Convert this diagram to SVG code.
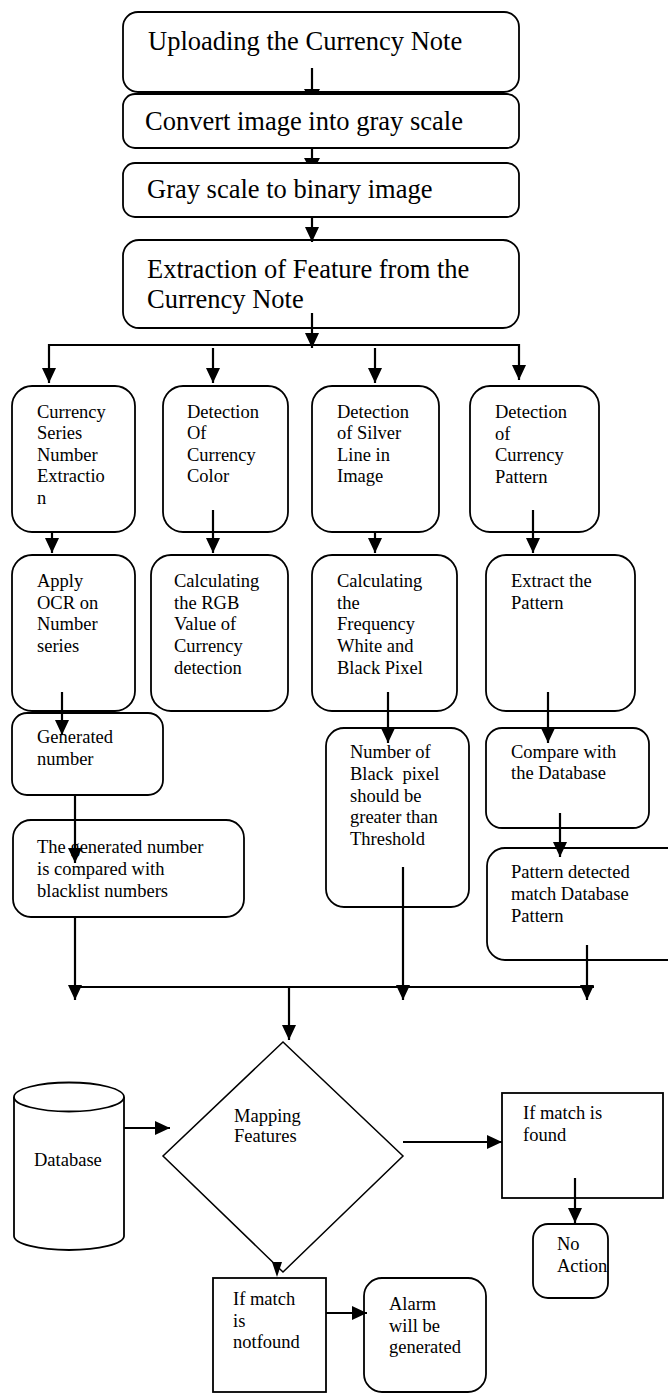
<svg xmlns="http://www.w3.org/2000/svg" width="668" height="1394" viewBox="0 0 668 1394">
<style>
.box{fill:#fff;stroke:#000;stroke-width:1.8}
.big{font-family:"Liberation Serif","Times New Roman",serif;font-size:26.5px;fill:#000}
.t{font-family:"Liberation Serif","Times New Roman",serif;font-size:18.5px;fill:#000}
.c{stroke:#000;stroke-width:2.2;fill:none}
.ca{stroke:#000;stroke-width:2.2;fill:none;marker-end:url(#ah)}
.hd{fill:#000;stroke:none}
</style>
<defs>
<marker id="ah" viewBox="0 0 15 14" refX="15" refY="7" markerWidth="15" markerHeight="14" markerUnits="userSpaceOnUse" orient="auto">
<path d="M0,0 L15,7 L0,14 z" fill="#000"/>
</marker>
</defs>
<g id="n1"><rect class="box" x="123" y="12" width="396" height="80" rx="15"/><text class="big" x="148" y="50">Uploading the Currency Note</text></g>
<g id="n2"><rect class="box" x="123" y="94" width="396" height="54" rx="12"/><text class="big" x="145" y="130">Convert image into gray scale</text></g>
<g id="n3"><rect class="box" x="123" y="163" width="396" height="54" rx="12"/><text class="big" x="147" y="198">Gray scale to binary image</text></g>
<g id="n4"><rect class="box" x="123" y="240" width="396" height="88" rx="16"/><text class="big" x="147" y="278">Extraction of Feature from the</text><text class="big" x="147" y="308">Currency Note</text></g>
<g id="c1"><rect class="box" x="12" y="386" width="123" height="146" rx="20"/><text class="t" x="37" y="418">Currency</text><text class="t" x="37" y="439">Series</text><text class="t" x="37" y="461">Number</text><text class="t" x="37" y="482">Extractio</text><text class="t" x="37" y="504">n</text></g>
<g id="c2"><rect class="box" x="163" y="386" width="125" height="146" rx="20"/><text class="t" x="187" y="418">Detection</text><text class="t" x="187" y="439">Of</text><text class="t" x="187" y="461">Currency</text><text class="t" x="187" y="482">Color</text></g>
<g id="c3"><rect class="box" x="312" y="386" width="127" height="146" rx="20"/><text class="t" x="337" y="418">Detection</text><text class="t" x="337" y="439">of Silver</text><text class="t" x="337" y="461">Line in</text><text class="t" x="337" y="482">Image</text></g>
<g id="c4"><rect class="box" x="470" y="386" width="129" height="146" rx="20"/><text class="t" x="495" y="418">Detection</text><text class="t" x="495" y="440">of</text><text class="t" x="495" y="461">Currency</text><text class="t" x="495" y="483">Pattern</text></g>
<g id="a1"><rect class="box" x="12" y="555" width="123" height="156" rx="20"/><text class="t" x="37" y="587">Apply</text><text class="t" x="37" y="609">OCR on</text><text class="t" x="37" y="630">Number</text><text class="t" x="37" y="652">series</text></g>
<g id="a2"><rect class="box" x="151" y="555" width="137" height="156" rx="20"/><text class="t" x="174" y="587">Calculating</text><text class="t" x="174" y="609">the RGB</text><text class="t" x="174" y="630">Value of</text><text class="t" x="174" y="652">Currency</text><text class="t" x="174" y="674">detection</text></g>
<g id="a3"><rect class="box" x="312" y="555" width="145" height="156" rx="20"/><text class="t" x="337" y="587">Calculating</text><text class="t" x="337" y="609">the</text><text class="t" x="337" y="630">Frequency</text><text class="t" x="337" y="652">White and</text><text class="t" x="337" y="674">Black Pixel</text></g>
<g id="a4"><rect class="box" x="486" y="555" width="149" height="156" rx="20"/><text class="t" x="511" y="587">Extract the</text><text class="t" x="511" y="609">Pattern</text></g>
<g id="g1"><rect class="box" x="12" y="713" width="151" height="82" rx="15"/><text class="t" x="37" y="743">Generated</text><text class="t" x="37" y="765">number</text></g>
<g id="t1"><rect class="box" x="13" y="820" width="231" height="97" rx="18"/><text class="t" x="37" y="853">The generated number</text><text class="t" x="37" y="875">is compared with</text><text class="t" x="37" y="897">blacklist numbers</text></g>
<g id="b3"><rect class="box" x="326" y="728" width="143" height="179" rx="18"/><text class="t" x="350" y="758">Number of</text><text class="t" x="350" y="780" xml:space="preserve">Black  pixel</text><text class="t" x="350" y="802">should be</text><text class="t" x="350" y="823">greater than</text><text class="t" x="350" y="845">Threshold</text></g>
<g id="b4"><rect class="box" x="486" y="728" width="163" height="100" rx="16"/><text class="t" x="511" y="758">Compare with</text><text class="t" x="511" y="779">the Database</text></g>
<g id="p4"><rect class="box" x="487" y="848" width="200" height="112" rx="18"/><text class="t" x="511" y="878">Pattern detected</text><text class="t" x="511" y="900">match Database</text><text class="t" x="511" y="922">Pattern</text></g>
<g id="db"><path class="box" d="M14,1097 L14,1236 A55,14 0 0 0 124,1236 L124,1097"/><ellipse class="box" cx="69" cy="1097" rx="55" ry="14.5"/><text class="t" x="34" y="1166">Database</text></g>
<g id="map"><polygon class="box" points="283,1042 403,1156 283,1272 163,1156" style="stroke-width:1.5"/><text class="t" x="234" y="1122">Mapping</text><text class="t" x="234" y="1142">Features</text></g>
<g id="found"><rect class="box" x="502" y="1093" width="161" height="105"/><text class="t" x="523" y="1119">If match is</text><text class="t" x="523" y="1141">found</text></g>
<g id="noaction"><rect class="box" x="533" y="1224" width="75" height="74" rx="15"/><text class="t" x="557" y="1250">No</text><text class="t" x="557" y="1272">Action</text></g>
<g id="notfound"><rect class="box" x="213" y="1278" width="113" height="114"/><text class="t" x="233" y="1305">If match</text><text class="t" x="233" y="1327">is</text><text class="t" x="233" y="1348">notfound</text></g>
<g id="alarm"><rect class="box" x="364" y="1278" width="122" height="114" rx="18"/><text class="t" x="389" y="1310">Alarm</text><text class="t" x="389" y="1332">will be</text><text class="t" x="389" y="1353">generated</text></g>
<g id="connectors">
<line class="c" x1="312" y1="68" x2="312" y2="90"/>
<polygon class="hd" points="304,89 320,89 317.3,94 306.7,94"/>
<line class="c" x1="312" y1="148" x2="312" y2="159"/>
<polygon class="hd" points="304,158 320,158 317.3,163 306.7,163"/>
<line class="ca" x1="312" y1="218" x2="312" y2="242"/>
<line class="ca" x1="312" y1="313" x2="312" y2="348"/>
<line class="c" x1="49" y1="345" x2="519" y2="345"/>
<line class="ca" x1="49" y1="344" x2="49" y2="383"/>
<line class="ca" x1="213" y1="348" x2="213" y2="383"/>
<line class="ca" x1="375" y1="348" x2="375" y2="383"/>
<line class="ca" x1="519" y1="344" x2="519" y2="380"/>
<line class="ca" x1="52" y1="532" x2="52" y2="553"/>
<line class="ca" x1="213" y1="510" x2="213" y2="553"/>
<line class="ca" x1="375" y1="532" x2="375" y2="553"/>
<line class="ca" x1="533" y1="510" x2="533" y2="553"/>
<line class="ca" x1="62" y1="692" x2="62" y2="735"/>
<line class="ca" x1="388" y1="692" x2="388" y2="743"/>
<line class="ca" x1="548" y1="692" x2="548" y2="743"/>
<line class="ca" x1="75" y1="795" x2="75" y2="863"/>
<line class="ca" x1="560" y1="813" x2="560" y2="857"/>
<line class="ca" x1="75" y1="917" x2="75" y2="1000"/>
<line class="ca" x1="403" y1="867" x2="403" y2="1000"/>
<line class="ca" x1="587" y1="945" x2="587" y2="1000"/>
<line class="c" x1="70" y1="987" x2="594" y2="987"/>
<line class="ca" x1="289" y1="987" x2="289" y2="1040"/>
<line class="ca" x1="124" y1="1128" x2="170" y2="1128"/>
<line class="ca" x1="403" y1="1142" x2="502" y2="1142"/>
<line class="ca" x1="575" y1="1178" x2="575" y2="1223"/>
<polygon class="hd" points="272,1262 282,1262 277,1277"/>
<line class="ca" x1="326" y1="1313" x2="367" y2="1313"/>
</g>
</svg>
